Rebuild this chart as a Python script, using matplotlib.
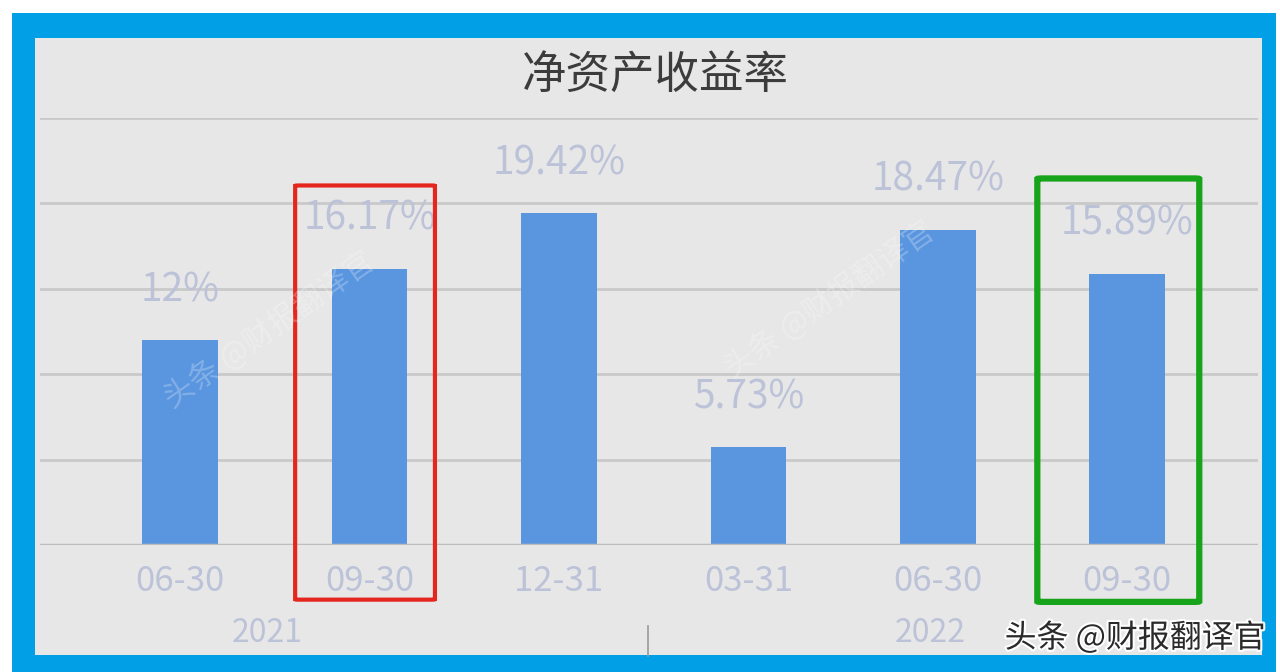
import matplotlib
matplotlib.use("Agg")
import matplotlib.pyplot as plt
from matplotlib.patches import Rectangle, FancyBboxPatch
import matplotlib.patheffects as pe

plt.rcParams['font.family'] = ['Noto Sans CJK SC', 'DejaVu Sans']

# ---------- dados ----------
titulo = "净资产收益率"
datas = ["06-30", "09-30", "12-31", "03-31", "06-30", "09-30"]
anos = ["2021", "2022"]
roe = [12.00, 16.17, 19.42, 5.73, 18.47, 15.89]
rotulos = ["12%", "16.17%", "19.42%", "5.73%", "18.47%", "15.89%"]
# ---------------------------

W, H = 1280, 672
fig = plt.figure(figsize=(W / 100, H / 100), dpi=100, facecolor="white")

def fx(px):
    return px / W

def fy(py):
    return 1 - py / H

# moldura azul + fundo cinza (atras dos eixos)
fig.patches.append(Rectangle((fx(12), 0), fx(1276 - 12), fy(13), transform=fig.transFigure,
                             facecolor="#019fe6", edgecolor="none", zorder=-2))
fig.patches.append(Rectangle((fx(35), fy(655)), fx(1262 - 35), fy(38) - fy(655),
                             transform=fig.transFigure, facecolor="#e8e7e8",
                             edgecolor="none", zorder=-1))

ax = fig.add_axes([fx(40), fy(545), fx(1258 - 40), fy(118) - fy(545)])
ax.set_facecolor("none")
x = list(range(len(roe)))
ax.bar(x, roe, width=0.40, color="#5a95df", zorder=3)
ax.set_xlim(-0.74, 5.69)
ax.set_ylim(0, 25)
ax.set_yticks([0, 5, 10, 15, 20, 25])
ax.yaxis.grid(True, color="#c9c9c9", linewidth=2)
ax.set_axisbelow(True)
ax.tick_params(axis="y", left=False, labelleft=False)
for s in ax.spines.values():
    s.set_visible(False)
ax.axhline(0, color="#bdbdbd", linewidth=2.5, zorder=4)

ax.set_xticks(x)
ax.set_xticklabels(datas, fontsize=25, color="#bcc3d8")
ax.tick_params(axis="x", length=0, pad=14)

for xi, v, r in zip(x, roe, rotulos):
    ax.annotate(r, (xi, v), xytext=(0, 36), textcoords="offset points",
                ha="center", va="center", fontsize=28, color="#bcc3d8")

# anos e separador
ax.text(0.46, -0.205, anos[0], transform=ax.get_xaxis_transform(), ha="center",
        va="center", fontsize=23, color="#bcc3d8")
ax.text(3.96, -0.205, anos[1], transform=ax.get_xaxis_transform(), ha="center",
        va="center", fontsize=23, color="#bcc3d8")
ax.plot([2.47, 2.47], [-0.19, -0.26], transform=ax.get_xaxis_transform(),
        color="#9a9a9a", linewidth=1.2, clip_on=False)

# destaques
ax.add_patch(FancyBboxPatch((0.607, -3.2), 1.345 - 0.607, 21.05 + 3.2,
                            boxstyle="round,pad=0,rounding_size=0.02",
                            fill=False, edgecolor="#e5261f", linewidth=3,
                            clip_on=False, zorder=5))
ax.add_patch(FancyBboxPatch((4.525, -3.33), 5.38 - 4.525, 21.46 + 3.33,
                            boxstyle="round,pad=0,rounding_size=0.03",
                            fill=False, edgecolor="#17a31a", linewidth=4.5,
                            clip_on=False, zorder=5))

# titulo
fig.text(fx(655), fy(75), titulo, ha="center", va="center", fontsize=32, color="#3c3c3c")

# marcas d'agua
for (px, py) in [(270, 330), (830, 300)]:
    fig.text(fx(px), fy(py), "头条 @财报翻译官", ha="center", va="center", fontsize=22,
             color="white", alpha=0.25, rotation=35)
fig.text(fx(1266), fy(638), "头条 @财报翻译官", ha="right", va="center", fontsize=23,
         color="#2a2a2a",
         path_effects=[pe.withStroke(linewidth=3, foreground="white")])

fig.savefig("out.png", dpi=100, facecolor=fig.get_facecolor())
